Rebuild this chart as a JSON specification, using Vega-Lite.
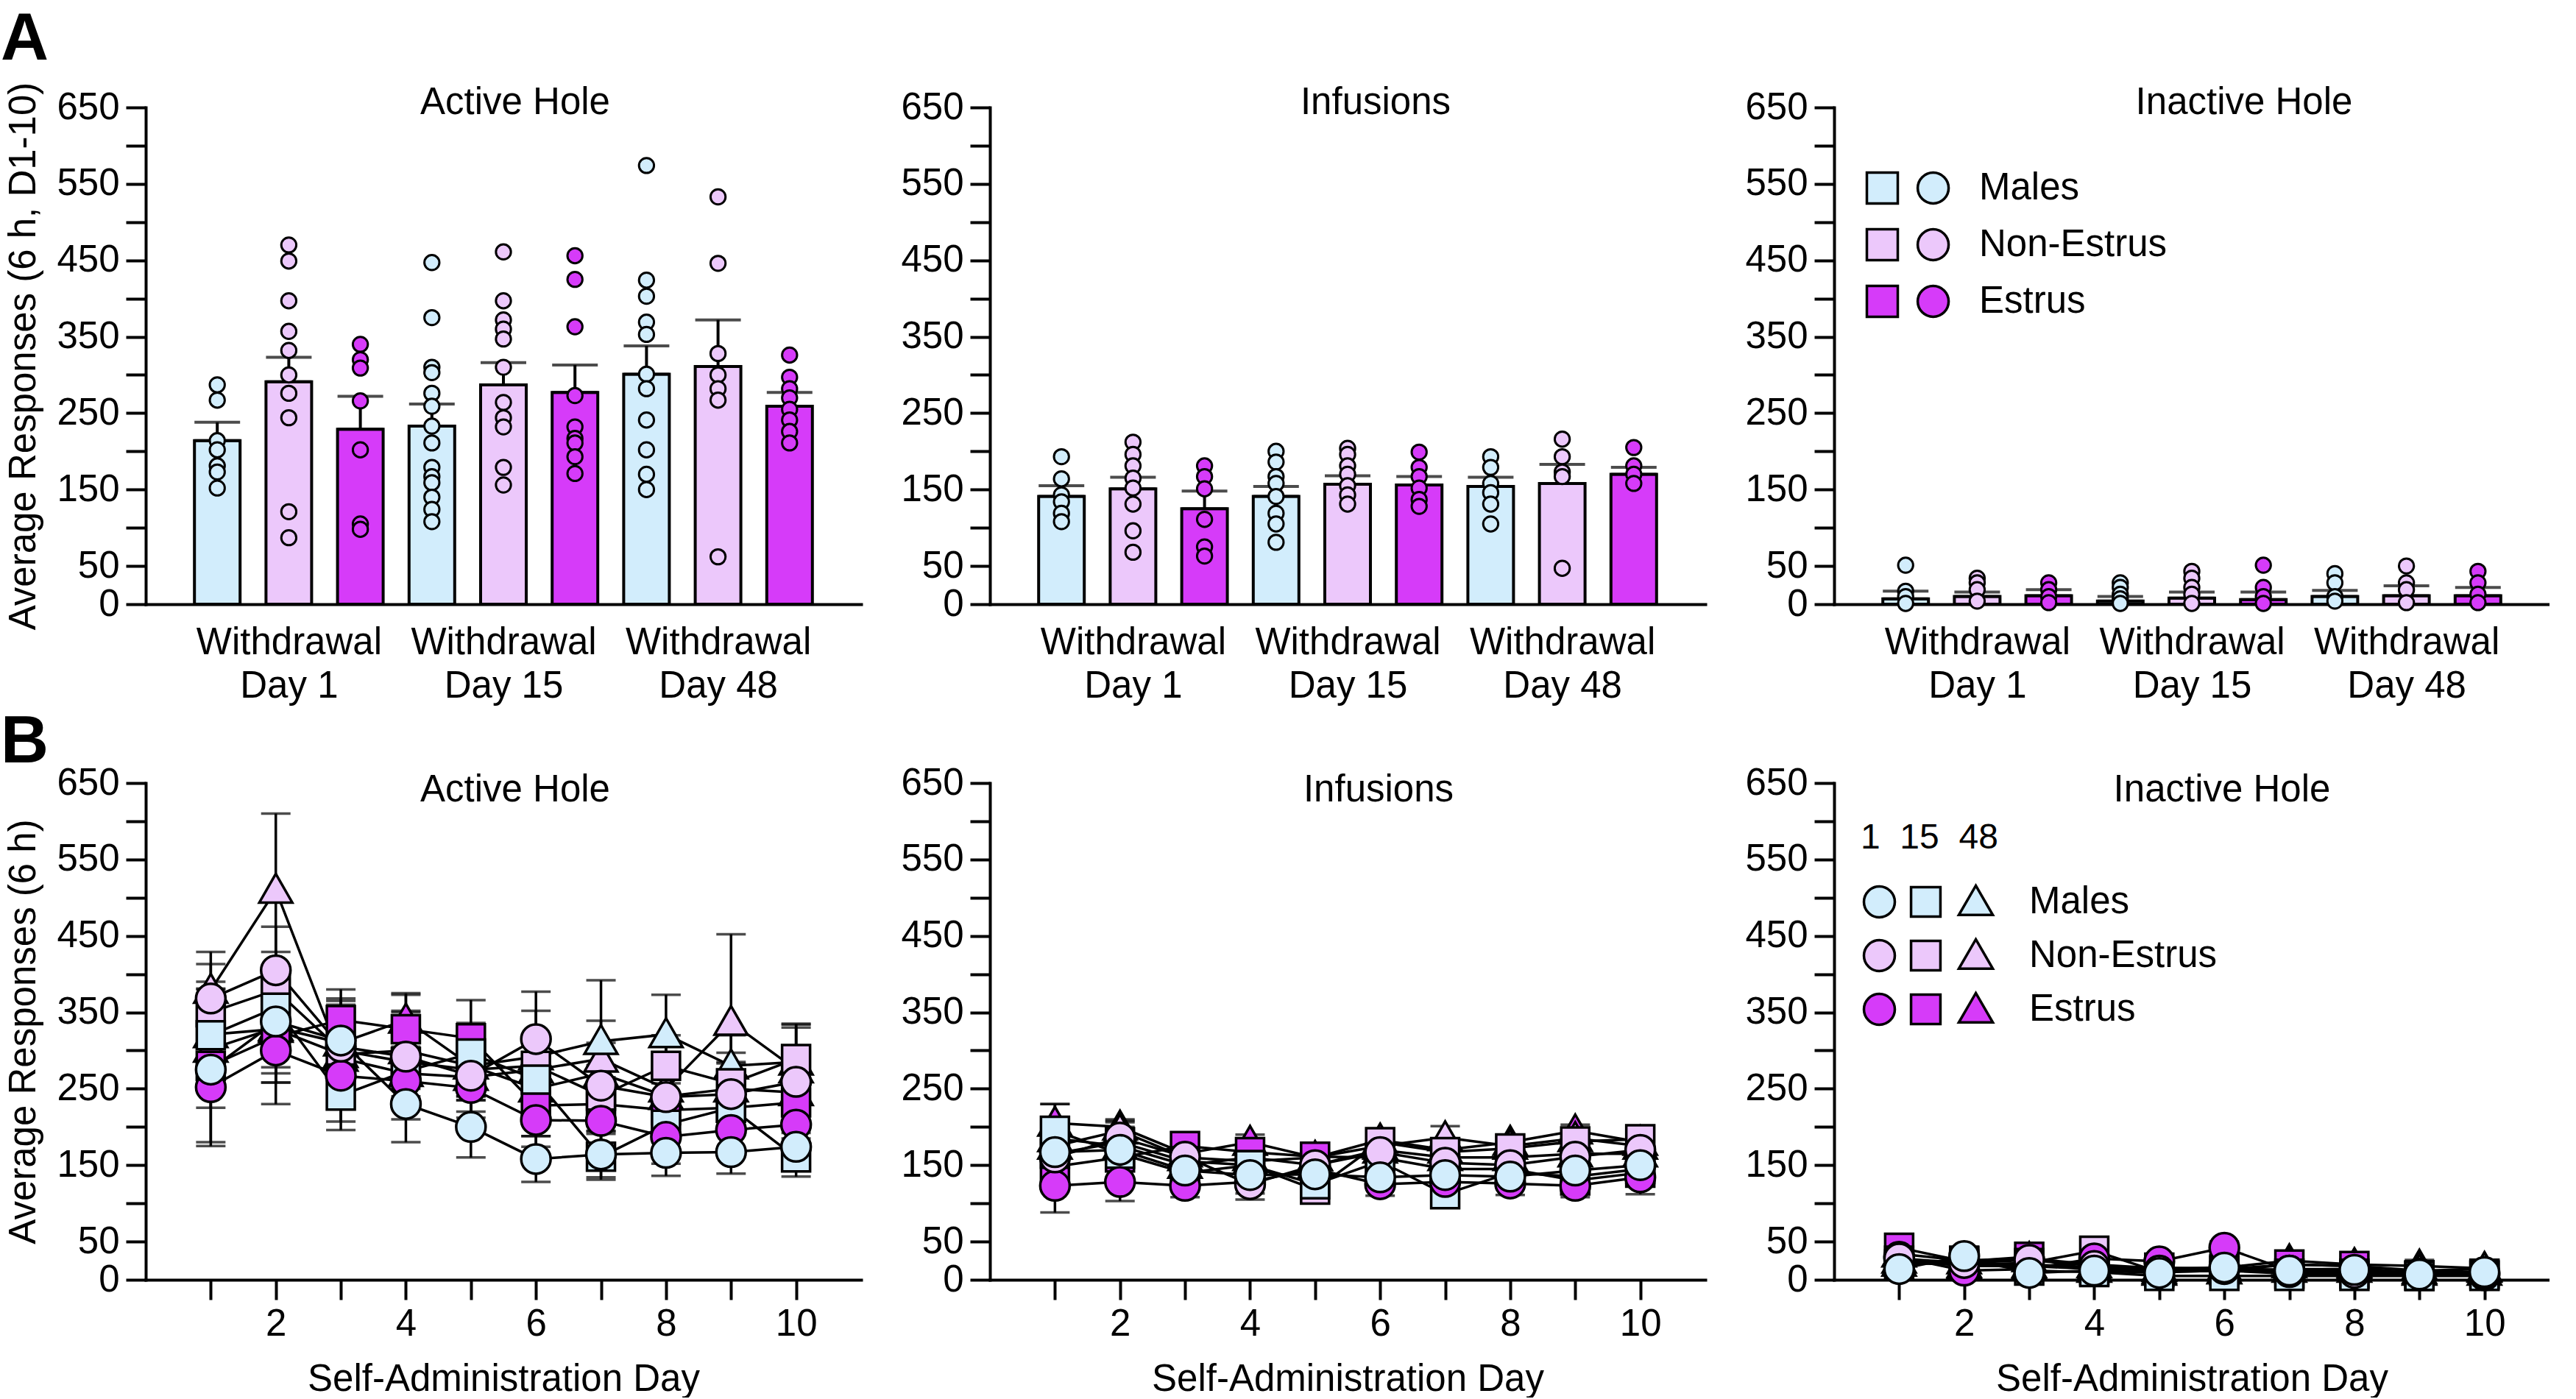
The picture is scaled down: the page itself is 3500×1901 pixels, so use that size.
{
"$schema":"https://vega.github.io/schema/vega-lite/v6.json",
"padding":{"left":0,"top":9,"right":0,"bottom":0},
"background":"white",
"datasets":{
"bars":[
{"p":"act","g":"Males","pos":1,"mean":214,"hi":238},{"p":"act","g":"Non-Estrus","pos":2,"mean":291,"hi":323},{"p":"act","g":"Estrus","pos":3,"mean":229,"hi":272},
{"p":"act","g":"Males","pos":4,"mean":233,"hi":262},{"p":"act","g":"Non-Estrus","pos":5,"mean":287,"hi":316},{"p":"act","g":"Estrus","pos":6,"mean":277,"hi":313},
{"p":"act","g":"Males","pos":7,"mean":301,"hi":338},{"p":"act","g":"Non-Estrus","pos":8,"mean":311,"hi":372},{"p":"act","g":"Estrus","pos":9,"mean":259,"hi":277},
{"p":"inf","g":"Males","pos":1,"mean":141,"hi":155},{"p":"inf","g":"Non-Estrus","pos":2,"mean":151,"hi":166},{"p":"inf","g":"Estrus","pos":3,"mean":125,"hi":148},
{"p":"inf","g":"Males","pos":4,"mean":141,"hi":154},{"p":"inf","g":"Non-Estrus","pos":5,"mean":157,"hi":168},{"p":"inf","g":"Estrus","pos":6,"mean":156,"hi":167},
{"p":"inf","g":"Males","pos":7,"mean":154,"hi":166},{"p":"inf","g":"Non-Estrus","pos":8,"mean":158,"hi":183},{"p":"inf","g":"Estrus","pos":9,"mean":170,"hi":179},
{"p":"ina","g":"Males","pos":1,"mean":7,"hi":17},{"p":"ina","g":"Non-Estrus","pos":2,"mean":10,"hi":16},{"p":"ina","g":"Estrus","pos":3,"mean":11,"hi":19},
{"p":"ina","g":"Males","pos":4,"mean":4,"hi":10},{"p":"ina","g":"Non-Estrus","pos":5,"mean":8,"hi":16},{"p":"ina","g":"Estrus","pos":6,"mean":6,"hi":16},
{"p":"ina","g":"Males","pos":7,"mean":10,"hi":18},{"p":"ina","g":"Non-Estrus","pos":8,"mean":11,"hi":24},{"p":"ina","g":"Estrus","pos":9,"mean":11,"hi":22}
],
"pts":[
{"p":"act","g":"Males","pos":1,"v":287},{"p":"act","g":"Males","pos":1,"v":267},{"p":"act","g":"Males","pos":1,"v":214},{"p":"act","g":"Males","pos":1,"v":202},{"p":"act","g":"Males","pos":1,"v":181},{"p":"act","g":"Males","pos":1,"v":173},{"p":"act","g":"Males","pos":1,"v":152},
{"p":"act","g":"Non-Estrus","pos":2,"v":470},{"p":"act","g":"Non-Estrus","pos":2,"v":449},{"p":"act","g":"Non-Estrus","pos":2,"v":397},{"p":"act","g":"Non-Estrus","pos":2,"v":357},{"p":"act","g":"Non-Estrus","pos":2,"v":332},{"p":"act","g":"Non-Estrus","pos":2,"v":300},{"p":"act","g":"Non-Estrus","pos":2,"v":276},{"p":"act","g":"Non-Estrus","pos":2,"v":244},{"p":"act","g":"Non-Estrus","pos":2,"v":121},{"p":"act","g":"Non-Estrus","pos":2,"v":87},
{"p":"act","g":"Estrus","pos":3,"v":340},{"p":"act","g":"Estrus","pos":3,"v":320},{"p":"act","g":"Estrus","pos":3,"v":309},{"p":"act","g":"Estrus","pos":3,"v":266},{"p":"act","g":"Estrus","pos":3,"v":202},{"p":"act","g":"Estrus","pos":3,"v":105},{"p":"act","g":"Estrus","pos":3,"v":98},
{"p":"act","g":"Males","pos":4,"v":447},{"p":"act","g":"Males","pos":4,"v":375},{"p":"act","g":"Males","pos":4,"v":310},{"p":"act","g":"Males","pos":4,"v":303},{"p":"act","g":"Males","pos":4,"v":276},{"p":"act","g":"Males","pos":4,"v":259},{"p":"act","g":"Males","pos":4,"v":233},{"p":"act","g":"Males","pos":4,"v":211},{"p":"act","g":"Males","pos":4,"v":179},{"p":"act","g":"Males","pos":4,"v":167},{"p":"act","g":"Males","pos":4,"v":159},{"p":"act","g":"Males","pos":4,"v":140},{"p":"act","g":"Males","pos":4,"v":124},{"p":"act","g":"Males","pos":4,"v":108},
{"p":"act","g":"Non-Estrus","pos":5,"v":461},{"p":"act","g":"Non-Estrus","pos":5,"v":397},{"p":"act","g":"Non-Estrus","pos":5,"v":372},{"p":"act","g":"Non-Estrus","pos":5,"v":360},{"p":"act","g":"Non-Estrus","pos":5,"v":347},{"p":"act","g":"Non-Estrus","pos":5,"v":310},{"p":"act","g":"Non-Estrus","pos":5,"v":264},{"p":"act","g":"Non-Estrus","pos":5,"v":244},{"p":"act","g":"Non-Estrus","pos":5,"v":232},{"p":"act","g":"Non-Estrus","pos":5,"v":179},{"p":"act","g":"Non-Estrus","pos":5,"v":156},
{"p":"act","g":"Estrus","pos":6,"v":456},{"p":"act","g":"Estrus","pos":6,"v":425},{"p":"act","g":"Estrus","pos":6,"v":363},{"p":"act","g":"Estrus","pos":6,"v":273},{"p":"act","g":"Estrus","pos":6,"v":232},{"p":"act","g":"Estrus","pos":6,"v":217},{"p":"act","g":"Estrus","pos":6,"v":211},{"p":"act","g":"Estrus","pos":6,"v":193},{"p":"act","g":"Estrus","pos":6,"v":171},
{"p":"act","g":"Males","pos":7,"v":574},{"p":"act","g":"Males","pos":7,"v":424},{"p":"act","g":"Males","pos":7,"v":403},{"p":"act","g":"Males","pos":7,"v":369},{"p":"act","g":"Males","pos":7,"v":353},{"p":"act","g":"Males","pos":7,"v":301},{"p":"act","g":"Males","pos":7,"v":282},{"p":"act","g":"Males","pos":7,"v":241},{"p":"act","g":"Males","pos":7,"v":202},{"p":"act","g":"Males","pos":7,"v":170},{"p":"act","g":"Males","pos":7,"v":150},
{"p":"act","g":"Non-Estrus","pos":8,"v":533},{"p":"act","g":"Non-Estrus","pos":8,"v":446},{"p":"act","g":"Non-Estrus","pos":8,"v":328},{"p":"act","g":"Non-Estrus","pos":8,"v":300},{"p":"act","g":"Non-Estrus","pos":8,"v":282},{"p":"act","g":"Non-Estrus","pos":8,"v":267},{"p":"act","g":"Non-Estrus","pos":8,"v":62},
{"p":"act","g":"Estrus","pos":9,"v":326},{"p":"act","g":"Estrus","pos":9,"v":297},{"p":"act","g":"Estrus","pos":9,"v":282},{"p":"act","g":"Estrus","pos":9,"v":270},{"p":"act","g":"Estrus","pos":9,"v":255},{"p":"act","g":"Estrus","pos":9,"v":241},{"p":"act","g":"Estrus","pos":9,"v":226},{"p":"act","g":"Estrus","pos":9,"v":211},
{"p":"inf","g":"Males","pos":1,"v":193},{"p":"inf","g":"Males","pos":1,"v":164},{"p":"inf","g":"Males","pos":1,"v":143},{"p":"inf","g":"Males","pos":1,"v":134},{"p":"inf","g":"Males","pos":1,"v":119},{"p":"inf","g":"Males","pos":1,"v":108},
{"p":"inf","g":"Non-Estrus","pos":2,"v":212},{"p":"inf","g":"Non-Estrus","pos":2,"v":196},{"p":"inf","g":"Non-Estrus","pos":2,"v":181},{"p":"inf","g":"Non-Estrus","pos":2,"v":165},{"p":"inf","g":"Non-Estrus","pos":2,"v":152},{"p":"inf","g":"Non-Estrus","pos":2,"v":131},{"p":"inf","g":"Non-Estrus","pos":2,"v":96},{"p":"inf","g":"Non-Estrus","pos":2,"v":68},
{"p":"inf","g":"Estrus","pos":3,"v":181},{"p":"inf","g":"Estrus","pos":3,"v":167},{"p":"inf","g":"Estrus","pos":3,"v":151},{"p":"inf","g":"Estrus","pos":3,"v":111},{"p":"inf","g":"Estrus","pos":3,"v":75},{"p":"inf","g":"Estrus","pos":3,"v":63},
{"p":"inf","g":"Males","pos":4,"v":200},{"p":"inf","g":"Males","pos":4,"v":186},{"p":"inf","g":"Males","pos":4,"v":167},{"p":"inf","g":"Males","pos":4,"v":158},{"p":"inf","g":"Males","pos":4,"v":141},{"p":"inf","g":"Males","pos":4,"v":119},{"p":"inf","g":"Males","pos":4,"v":105},{"p":"inf","g":"Males","pos":4,"v":81},
{"p":"inf","g":"Non-Estrus","pos":5,"v":204},{"p":"inf","g":"Non-Estrus","pos":5,"v":196},{"p":"inf","g":"Non-Estrus","pos":5,"v":181},{"p":"inf","g":"Non-Estrus","pos":5,"v":170},{"p":"inf","g":"Non-Estrus","pos":5,"v":155},{"p":"inf","g":"Non-Estrus","pos":5,"v":143},{"p":"inf","g":"Non-Estrus","pos":5,"v":131},
{"p":"inf","g":"Estrus","pos":6,"v":199},{"p":"inf","g":"Estrus","pos":6,"v":179},{"p":"inf","g":"Estrus","pos":6,"v":167},{"p":"inf","g":"Estrus","pos":6,"v":152},{"p":"inf","g":"Estrus","pos":6,"v":137},{"p":"inf","g":"Estrus","pos":6,"v":128},
{"p":"inf","g":"Males","pos":7,"v":193},{"p":"inf","g":"Males","pos":7,"v":179},{"p":"inf","g":"Males","pos":7,"v":158},{"p":"inf","g":"Males","pos":7,"v":146},{"p":"inf","g":"Males","pos":7,"v":131},{"p":"inf","g":"Males","pos":7,"v":105},
{"p":"inf","g":"Non-Estrus","pos":8,"v":216},{"p":"inf","g":"Non-Estrus","pos":8,"v":193},{"p":"inf","g":"Non-Estrus","pos":8,"v":173},{"p":"inf","g":"Non-Estrus","pos":8,"v":167},{"p":"inf","g":"Non-Estrus","pos":8,"v":47},
{"p":"inf","g":"Estrus","pos":9,"v":205},{"p":"inf","g":"Estrus","pos":9,"v":181},{"p":"inf","g":"Estrus","pos":9,"v":170},{"p":"inf","g":"Estrus","pos":9,"v":158},
{"p":"ina","g":"Males","pos":1,"v":51},{"p":"ina","g":"Males","pos":1,"v":17},{"p":"ina","g":"Males","pos":1,"v":10},{"p":"ina","g":"Males","pos":1,"v":1},
{"p":"ina","g":"Non-Estrus","pos":2,"v":34},{"p":"ina","g":"Non-Estrus","pos":2,"v":28},{"p":"ina","g":"Non-Estrus","pos":2,"v":19},{"p":"ina","g":"Non-Estrus","pos":2,"v":4},
{"p":"ina","g":"Estrus","pos":3,"v":28},{"p":"ina","g":"Estrus","pos":3,"v":19},{"p":"ina","g":"Estrus","pos":3,"v":10},{"p":"ina","g":"Estrus","pos":3,"v":2},
{"p":"ina","g":"Males","pos":4,"v":28},{"p":"ina","g":"Males","pos":4,"v":22},{"p":"ina","g":"Males","pos":4,"v":13},{"p":"ina","g":"Males","pos":4,"v":7},{"p":"ina","g":"Males","pos":4,"v":1},
{"p":"ina","g":"Non-Estrus","pos":5,"v":43},{"p":"ina","g":"Non-Estrus","pos":5,"v":34},{"p":"ina","g":"Non-Estrus","pos":5,"v":22},{"p":"ina","g":"Non-Estrus","pos":5,"v":13},{"p":"ina","g":"Non-Estrus","pos":5,"v":1},
{"p":"ina","g":"Estrus","pos":6,"v":51},{"p":"ina","g":"Estrus","pos":6,"v":22},{"p":"ina","g":"Estrus","pos":6,"v":10},{"p":"ina","g":"Estrus","pos":6,"v":1},
{"p":"ina","g":"Males","pos":7,"v":40},{"p":"ina","g":"Males","pos":7,"v":28},{"p":"ina","g":"Males","pos":7,"v":10},{"p":"ina","g":"Males","pos":7,"v":4},
{"p":"ina","g":"Non-Estrus","pos":8,"v":50},{"p":"ina","g":"Non-Estrus","pos":8,"v":28},{"p":"ina","g":"Non-Estrus","pos":8,"v":19},{"p":"ina","g":"Non-Estrus","pos":8,"v":2},
{"p":"ina","g":"Estrus","pos":9,"v":43},{"p":"ina","g":"Estrus","pos":9,"v":28},{"p":"ina","g":"Estrus","pos":9,"v":13},{"p":"ina","g":"Estrus","pos":9,"v":2}
],
"ser":[
{"p":"act","g":"Estrus","c":"48","d":1,"m":302,"s":45},{"p":"act","g":"Estrus","c":"48","d":2,"m":330,"s":60},{"p":"act","g":"Estrus","c":"48","d":3,"m":310,"s":50},{"p":"act","g":"Estrus","c":"48","d":4,"m":340,"s":35},{"p":"act","g":"Estrus","c":"48","d":5,"m":280,"s":40},{"p":"act","g":"Estrus","c":"48","d":6,"m":250,"s":40},{"p":"act","g":"Estrus","c":"48","d":7,"m":270,"s":40},{"p":"act","g":"Estrus","c":"48","d":8,"m":240,"s":35},{"p":"act","g":"Estrus","c":"48","d":9,"m":250,"s":35},{"p":"act","g":"Estrus","c":"48","d":10,"m":245,"s":40},
{"p":"act","g":"Non-Estrus","c":"48","d":1,"m":379,"s":50},{"p":"act","g":"Non-Estrus","c":"48","d":2,"m":510,"s":100},{"p":"act","g":"Non-Estrus","c":"48","d":3,"m":290,"s":50},{"p":"act","g":"Non-Estrus","c":"48","d":4,"m":270,"s":45},{"p":"act","g":"Non-Estrus","c":"48","d":5,"m":265,"s":45},{"p":"act","g":"Non-Estrus","c":"48","d":6,"m":275,"s":45},{"p":"act","g":"Non-Estrus","c":"48","d":7,"m":289,"s":50},{"p":"act","g":"Non-Estrus","c":"48","d":8,"m":250,"s":45},{"p":"act","g":"Non-Estrus","c":"48","d":9,"m":337,"s":115},{"p":"act","g":"Non-Estrus","c":"48","d":10,"m":275,"s":55},
{"p":"act","g":"Males","c":"48","d":1,"m":321,"s":60},{"p":"act","g":"Males","c":"48","d":2,"m":328,"s":70},{"p":"act","g":"Males","c":"48","d":3,"m":295,"s":55},{"p":"act","g":"Males","c":"48","d":4,"m":300,"s":50},{"p":"act","g":"Males","c":"48","d":5,"m":280,"s":45},{"p":"act","g":"Males","c":"48","d":6,"m":292,"s":60},{"p":"act","g":"Males","c":"48","d":7,"m":312,"s":80},{"p":"act","g":"Males","c":"48","d":8,"m":321,"s":52},{"p":"act","g":"Males","c":"48","d":9,"m":280,"s":40},{"p":"act","g":"Males","c":"48","d":10,"m":285,"s":50},
{"p":"act","g":"Estrus","c":"15","d":1,"m":280,"s":100},{"p":"act","g":"Estrus","c":"15","d":2,"m":318,"s":60},{"p":"act","g":"Estrus","c":"15","d":3,"m":340,"s":40},{"p":"act","g":"Estrus","c":"15","d":4,"m":328,"s":45},{"p":"act","g":"Estrus","c":"15","d":5,"m":316,"s":50},{"p":"act","g":"Estrus","c":"15","d":6,"m":228,"s":40},{"p":"act","g":"Estrus","c":"15","d":7,"m":230,"s":35},{"p":"act","g":"Estrus","c":"15","d":8,"m":222,"s":35},{"p":"act","g":"Estrus","c":"15","d":9,"m":225,"s":35},{"p":"act","g":"Estrus","c":"15","d":10,"m":232,"s":40},
{"p":"act","g":"Non-Estrus","c":"15","d":1,"m":350,"s":40},{"p":"act","g":"Non-Estrus","c":"15","d":2,"m":379,"s":50},{"p":"act","g":"Non-Estrus","c":"15","d":3,"m":300,"s":50},{"p":"act","g":"Non-Estrus","c":"15","d":4,"m":285,"s":45},{"p":"act","g":"Non-Estrus","c":"15","d":5,"m":275,"s":40},{"p":"act","g":"Non-Estrus","c":"15","d":6,"m":280,"s":40},{"p":"act","g":"Non-Estrus","c":"15","d":7,"m":241,"s":40},{"p":"act","g":"Non-Estrus","c":"15","d":8,"m":280,"s":40},{"p":"act","g":"Non-Estrus","c":"15","d":9,"m":257,"s":40},{"p":"act","g":"Non-Estrus","c":"15","d":10,"m":289,"s":45},
{"p":"act","g":"Males","c":"15","d":1,"m":320,"s":40},{"p":"act","g":"Males","c":"15","d":2,"m":356,"s":50},{"p":"act","g":"Males","c":"15","d":3,"m":241,"s":45},{"p":"act","g":"Males","c":"15","d":4,"m":273,"s":40},{"p":"act","g":"Males","c":"15","d":5,"m":296,"s":40},{"p":"act","g":"Males","c":"15","d":6,"m":262,"s":35},{"p":"act","g":"Males","c":"15","d":7,"m":161,"s":30},{"p":"act","g":"Males","c":"15","d":8,"m":203,"s":30},{"p":"act","g":"Males","c":"15","d":9,"m":225,"s":30},{"p":"act","g":"Males","c":"15","d":10,"m":160,"s":25},
{"p":"act","g":"Estrus","c":"1","d":1,"m":252,"s":77},{"p":"act","g":"Estrus","c":"1","d":2,"m":300,"s":70},{"p":"act","g":"Estrus","c":"1","d":3,"m":267,"s":60},{"p":"act","g":"Estrus","c":"1","d":4,"m":260,"s":50},{"p":"act","g":"Estrus","c":"1","d":5,"m":251,"s":45},{"p":"act","g":"Estrus","c":"1","d":6,"m":209,"s":35},{"p":"act","g":"Estrus","c":"1","d":7,"m":208,"s":35},{"p":"act","g":"Estrus","c":"1","d":8,"m":187,"s":35},{"p":"act","g":"Estrus","c":"1","d":9,"m":196,"s":35},{"p":"act","g":"Estrus","c":"1","d":10,"m":203,"s":30},
{"p":"act","g":"Non-Estrus","c":"1","d":1,"m":368,"s":45},{"p":"act","g":"Non-Estrus","c":"1","d":2,"m":405,"s":57},{"p":"act","g":"Non-Estrus","c":"1","d":3,"m":305,"s":60},{"p":"act","g":"Non-Estrus","c":"1","d":4,"m":292,"s":60},{"p":"act","g":"Non-Estrus","c":"1","d":5,"m":267,"s":55},{"p":"act","g":"Non-Estrus","c":"1","d":6,"m":315,"s":62},{"p":"act","g":"Non-Estrus","c":"1","d":7,"m":254,"s":45},{"p":"act","g":"Non-Estrus","c":"1","d":8,"m":239,"s":40},{"p":"act","g":"Non-Estrus","c":"1","d":9,"m":243,"s":40},{"p":"act","g":"Non-Estrus","c":"1","d":10,"m":259,"s":45},
{"p":"act","g":"Males","c":"1","d":1,"m":275,"s":50},{"p":"act","g":"Males","c":"1","d":2,"m":338,"s":60},{"p":"act","g":"Males","c":"1","d":3,"m":313,"s":55},{"p":"act","g":"Males","c":"1","d":4,"m":230,"s":50},{"p":"act","g":"Males","c":"1","d":5,"m":200,"s":40},{"p":"act","g":"Males","c":"1","d":6,"m":158,"s":30},{"p":"act","g":"Males","c":"1","d":7,"m":164,"s":30},{"p":"act","g":"Males","c":"1","d":8,"m":166,"s":30},{"p":"act","g":"Males","c":"1","d":9,"m":167,"s":28},{"p":"act","g":"Males","c":"1","d":10,"m":174,"s":30},
{"p":"inf","g":"Estrus","c":"48","d":1,"m":205,"s":25},{"p":"inf","g":"Estrus","c":"48","d":2,"m":200,"s":8},{"p":"inf","g":"Estrus","c":"48","d":3,"m":165,"s":10},{"p":"inf","g":"Estrus","c":"48","d":4,"m":180,"s":10},{"p":"inf","g":"Estrus","c":"48","d":5,"m":160,"s":10},{"p":"inf","g":"Estrus","c":"48","d":6,"m":183,"s":5},{"p":"inf","g":"Estrus","c":"48","d":7,"m":170,"s":10},{"p":"inf","g":"Estrus","c":"48","d":8,"m":180,"s":8},{"p":"inf","g":"Estrus","c":"48","d":9,"m":195,"s":8},{"p":"inf","g":"Estrus","c":"48","d":10,"m":180,"s":8},
{"p":"inf","g":"Non-Estrus","c":"48","d":1,"m":175,"s":20},{"p":"inf","g":"Non-Estrus","c":"48","d":2,"m":195,"s":15},{"p":"inf","g":"Non-Estrus","c":"48","d":3,"m":160,"s":12},{"p":"inf","g":"Non-Estrus","c":"48","d":4,"m":155,"s":12},{"p":"inf","g":"Non-Estrus","c":"48","d":5,"m":160,"s":15},{"p":"inf","g":"Non-Estrus","c":"48","d":6,"m":175,"s":10},{"p":"inf","g":"Non-Estrus","c":"48","d":7,"m":186,"s":15},{"p":"inf","g":"Non-Estrus","c":"48","d":8,"m":175,"s":10},{"p":"inf","g":"Non-Estrus","c":"48","d":9,"m":185,"s":10},{"p":"inf","g":"Non-Estrus","c":"48","d":10,"m":175,"s":10},
{"p":"inf","g":"Males","c":"48","d":1,"m":185,"s":20},{"p":"inf","g":"Males","c":"48","d":2,"m":175,"s":15},{"p":"inf","g":"Males","c":"48","d":3,"m":150,"s":12},{"p":"inf","g":"Males","c":"48","d":4,"m":160,"s":12},{"p":"inf","g":"Males","c":"48","d":5,"m":150,"s":15},{"p":"inf","g":"Males","c":"48","d":6,"m":170,"s":15},{"p":"inf","g":"Males","c":"48","d":7,"m":160,"s":15},{"p":"inf","g":"Males","c":"48","d":8,"m":160,"s":15},{"p":"inf","g":"Males","c":"48","d":9,"m":165,"s":15},{"p":"inf","g":"Males","c":"48","d":10,"m":165,"s":15},
{"p":"inf","g":"Estrus","c":"15","d":1,"m":148,"s":20},{"p":"inf","g":"Estrus","c":"15","d":2,"m":160,"s":15},{"p":"inf","g":"Estrus","c":"15","d":3,"m":175,"s":10},{"p":"inf","g":"Estrus","c":"15","d":4,"m":167,"s":10},{"p":"inf","g":"Estrus","c":"15","d":5,"m":161,"s":10},{"p":"inf","g":"Estrus","c":"15","d":6,"m":160,"s":15},{"p":"inf","g":"Estrus","c":"15","d":7,"m":145,"s":15},{"p":"inf","g":"Estrus","c":"15","d":8,"m":145,"s":15},{"p":"inf","g":"Estrus","c":"15","d":9,"m":130,"s":15},{"p":"inf","g":"Estrus","c":"15","d":10,"m":140,"s":15},
{"p":"inf","g":"Non-Estrus","c":"15","d":1,"m":165,"s":20},{"p":"inf","g":"Non-Estrus","c":"15","d":2,"m":180,"s":20},{"p":"inf","g":"Non-Estrus","c":"15","d":3,"m":155,"s":15},{"p":"inf","g":"Non-Estrus","c":"15","d":4,"m":150,"s":15},{"p":"inf","g":"Non-Estrus","c":"15","d":5,"m":118,"s":12},{"p":"inf","g":"Non-Estrus","c":"15","d":6,"m":180,"s":15},{"p":"inf","g":"Non-Estrus","c":"15","d":7,"m":167,"s":15},{"p":"inf","g":"Non-Estrus","c":"15","d":8,"m":172,"s":15},{"p":"inf","g":"Non-Estrus","c":"15","d":9,"m":181,"s":15},{"p":"inf","g":"Non-Estrus","c":"15","d":10,"m":184,"s":12},
{"p":"inf","g":"Males","c":"15","d":1,"m":195,"s":35},{"p":"inf","g":"Males","c":"15","d":2,"m":165,"s":20},{"p":"inf","g":"Males","c":"15","d":3,"m":140,"s":15},{"p":"inf","g":"Males","c":"15","d":4,"m":150,"s":15},{"p":"inf","g":"Males","c":"15","d":5,"m":125,"s":10},{"p":"inf","g":"Males","c":"15","d":6,"m":155,"s":15},{"p":"inf","g":"Males","c":"15","d":7,"m":112,"s":15},{"p":"inf","g":"Males","c":"15","d":8,"m":140,"s":15},{"p":"inf","g":"Males","c":"15","d":9,"m":135,"s":15},{"p":"inf","g":"Males","c":"15","d":10,"m":145,"s":15},
{"p":"inf","g":"Estrus","c":"1","d":1,"m":123,"s":35},{"p":"inf","g":"Estrus","c":"1","d":2,"m":128,"s":25},{"p":"inf","g":"Estrus","c":"1","d":3,"m":123,"s":15},{"p":"inf","g":"Estrus","c":"1","d":4,"m":128,"s":15},{"p":"inf","g":"Estrus","c":"1","d":5,"m":145,"s":15},{"p":"inf","g":"Estrus","c":"1","d":6,"m":125,"s":15},{"p":"inf","g":"Estrus","c":"1","d":7,"m":128,"s":15},{"p":"inf","g":"Estrus","c":"1","d":8,"m":126,"s":15},{"p":"inf","g":"Estrus","c":"1","d":9,"m":123,"s":15},{"p":"inf","g":"Estrus","c":"1","d":10,"m":134,"s":22},
{"p":"inf","g":"Non-Estrus","c":"1","d":1,"m":160,"s":20},{"p":"inf","g":"Non-Estrus","c":"1","d":2,"m":186,"s":20},{"p":"inf","g":"Non-Estrus","c":"1","d":3,"m":161,"s":15},{"p":"inf","g":"Non-Estrus","c":"1","d":4,"m":125,"s":20},{"p":"inf","g":"Non-Estrus","c":"1","d":5,"m":150,"s":15},{"p":"inf","g":"Non-Estrus","c":"1","d":6,"m":167,"s":18},{"p":"inf","g":"Non-Estrus","c":"1","d":7,"m":153,"s":15},{"p":"inf","g":"Non-Estrus","c":"1","d":8,"m":150,"s":15},{"p":"inf","g":"Non-Estrus","c":"1","d":9,"m":161,"s":15},{"p":"inf","g":"Non-Estrus","c":"1","d":10,"m":170,"s":15},
{"p":"inf","g":"Males","c":"1","d":1,"m":167,"s":20},{"p":"inf","g":"Males","c":"1","d":2,"m":170,"s":18},{"p":"inf","g":"Males","c":"1","d":3,"m":143,"s":15},{"p":"inf","g":"Males","c":"1","d":4,"m":137,"s":15},{"p":"inf","g":"Males","c":"1","d":5,"m":138,"s":12},{"p":"inf","g":"Males","c":"1","d":6,"m":134,"s":15},{"p":"inf","g":"Males","c":"1","d":7,"m":137,"s":15},{"p":"inf","g":"Males","c":"1","d":8,"m":135,"s":15},{"p":"inf","g":"Males","c":"1","d":9,"m":143,"s":15},{"p":"inf","g":"Males","c":"1","d":10,"m":150,"s":15},
{"p":"ina","g":"Estrus","c":"48","d":1,"m":34,"s":12},{"p":"ina","g":"Estrus","c":"48","d":2,"m":25,"s":8},{"p":"ina","g":"Estrus","c":"48","d":3,"m":28,"s":8},{"p":"ina","g":"Estrus","c":"48","d":4,"m":20,"s":6},{"p":"ina","g":"Estrus","c":"48","d":5,"m":15,"s":6},{"p":"ina","g":"Estrus","c":"48","d":6,"m":16,"s":6},{"p":"ina","g":"Estrus","c":"48","d":7,"m":25,"s":8},{"p":"ina","g":"Estrus","c":"48","d":8,"m":20,"s":8},{"p":"ina","g":"Estrus","c":"48","d":9,"m":18,"s":8},{"p":"ina","g":"Estrus","c":"48","d":10,"m":15,"s":6},
{"p":"ina","g":"Non-Estrus","c":"48","d":1,"m":26,"s":5},{"p":"ina","g":"Non-Estrus","c":"48","d":2,"m":18,"s":5},{"p":"ina","g":"Non-Estrus","c":"48","d":3,"m":18,"s":5},{"p":"ina","g":"Non-Estrus","c":"48","d":4,"m":14,"s":5},{"p":"ina","g":"Non-Estrus","c":"48","d":5,"m":10,"s":5},{"p":"ina","g":"Non-Estrus","c":"48","d":6,"m":12,"s":5},{"p":"ina","g":"Non-Estrus","c":"48","d":7,"m":14,"s":5},{"p":"ina","g":"Non-Estrus","c":"48","d":8,"m":14,"s":5},{"p":"ina","g":"Non-Estrus","c":"48","d":9,"m":10,"s":5},{"p":"ina","g":"Non-Estrus","c":"48","d":10,"m":10,"s":5},
{"p":"ina","g":"Males","c":"48","d":1,"m":22,"s":5},{"p":"ina","g":"Males","c":"48","d":2,"m":20,"s":5},{"p":"ina","g":"Males","c":"48","d":3,"m":20,"s":5},{"p":"ina","g":"Males","c":"48","d":4,"m":16,"s":5},{"p":"ina","g":"Males","c":"48","d":5,"m":12,"s":5},{"p":"ina","g":"Males","c":"48","d":6,"m":12,"s":5},{"p":"ina","g":"Males","c":"48","d":7,"m":20,"s":6},{"p":"ina","g":"Males","c":"48","d":8,"m":18,"s":6},{"p":"ina","g":"Males","c":"48","d":9,"m":12,"s":6},{"p":"ina","g":"Males","c":"48","d":10,"m":14,"s":5},
{"p":"ina","g":"Estrus","c":"15","d":1,"m":42,"s":8},{"p":"ina","g":"Estrus","c":"15","d":2,"m":24,"s":8},{"p":"ina","g":"Estrus","c":"15","d":3,"m":30,"s":6},{"p":"ina","g":"Estrus","c":"15","d":4,"m":12,"s":5},{"p":"ina","g":"Estrus","c":"15","d":5,"m":16,"s":5},{"p":"ina","g":"Estrus","c":"15","d":6,"m":14,"s":5},{"p":"ina","g":"Estrus","c":"15","d":7,"m":20,"s":5},{"p":"ina","g":"Estrus","c":"15","d":8,"m":18,"s":5},{"p":"ina","g":"Estrus","c":"15","d":9,"m":5,"s":5},{"p":"ina","g":"Estrus","c":"15","d":10,"m":8,"s":5},
{"p":"ina","g":"Non-Estrus","c":"15","d":1,"m":25,"s":5},{"p":"ina","g":"Non-Estrus","c":"15","d":2,"m":20,"s":5},{"p":"ina","g":"Non-Estrus","c":"15","d":3,"m":22,"s":5},{"p":"ina","g":"Non-Estrus","c":"15","d":4,"m":38,"s":6},{"p":"ina","g":"Non-Estrus","c":"15","d":5,"m":10,"s":4},{"p":"ina","g":"Non-Estrus","c":"15","d":6,"m":12,"s":4},{"p":"ina","g":"Non-Estrus","c":"15","d":7,"m":8,"s":4},{"p":"ina","g":"Non-Estrus","c":"15","d":8,"m":8,"s":4},{"p":"ina","g":"Non-Estrus","c":"15","d":9,"m":6,"s":3},{"p":"ina","g":"Non-Estrus","c":"15","d":10,"m":6,"s":3},
{"p":"ina","g":"Males","c":"15","d":1,"m":20,"s":5},{"p":"ina","g":"Males","c":"15","d":2,"m":25,"s":5},{"p":"ina","g":"Males","c":"15","d":3,"m":12,"s":4},{"p":"ina","g":"Males","c":"15","d":4,"m":10,"s":4},{"p":"ina","g":"Males","c":"15","d":5,"m":5,"s":6},{"p":"ina","g":"Males","c":"15","d":6,"m":5,"s":8},{"p":"ina","g":"Males","c":"15","d":7,"m":5,"s":6},{"p":"ina","g":"Males","c":"15","d":8,"m":5,"s":8},{"p":"ina","g":"Males","c":"15","d":9,"m":5,"s":6},{"p":"ina","g":"Males","c":"15","d":10,"m":5,"s":6},
{"p":"ina","g":"Estrus","c":"1","d":1,"m":30,"s":6},{"p":"ina","g":"Estrus","c":"1","d":2,"m":12,"s":5},{"p":"ina","g":"Estrus","c":"1","d":3,"m":14,"s":5},{"p":"ina","g":"Estrus","c":"1","d":4,"m":28,"s":6},{"p":"ina","g":"Estrus","c":"1","d":5,"m":24,"s":5},{"p":"ina","g":"Estrus","c":"1","d":6,"m":42,"s":8},{"p":"ina","g":"Estrus","c":"1","d":7,"m":12,"s":4},{"p":"ina","g":"Estrus","c":"1","d":8,"m":10,"s":4},{"p":"ina","g":"Estrus","c":"1","d":9,"m":8,"s":3},{"p":"ina","g":"Estrus","c":"1","d":10,"m":6,"s":3},
{"p":"ina","g":"Non-Estrus","c":"1","d":1,"m":28,"s":6},{"p":"ina","g":"Non-Estrus","c":"1","d":2,"m":22,"s":5},{"p":"ina","g":"Non-Estrus","c":"1","d":3,"m":26,"s":5},{"p":"ina","g":"Non-Estrus","c":"1","d":4,"m":18,"s":5},{"p":"ina","g":"Non-Estrus","c":"1","d":5,"m":12,"s":4},{"p":"ina","g":"Non-Estrus","c":"1","d":6,"m":14,"s":4},{"p":"ina","g":"Non-Estrus","c":"1","d":7,"m":10,"s":4},{"p":"ina","g":"Non-Estrus","c":"1","d":8,"m":9,"s":3},{"p":"ina","g":"Non-Estrus","c":"1","d":9,"m":8,"s":3},{"p":"ina","g":"Non-Estrus","c":"1","d":10,"m":8,"s":3},
{"p":"ina","g":"Males","c":"1","d":1,"m":14,"s":5},{"p":"ina","g":"Males","c":"1","d":2,"m":31,"s":6},{"p":"ina","g":"Males","c":"1","d":3,"m":9,"s":4},{"p":"ina","g":"Males","c":"1","d":4,"m":12,"s":4},{"p":"ina","g":"Males","c":"1","d":5,"m":9,"s":4},{"p":"ina","g":"Males","c":"1","d":6,"m":16,"s":5},{"p":"ina","g":"Males","c":"1","d":7,"m":12,"s":4},{"p":"ina","g":"Males","c":"1","d":8,"m":13,"s":4},{"p":"ina","g":"Males","c":"1","d":9,"m":7,"s":3},{"p":"ina","g":"Males","c":"1","d":10,"m":10,"s":3}
]
},
"vconcat":[
{
"title":{"text":"A","anchor":"start","frame":"bounds","fontSize":90,"fontWeight":"bold","offset":11,"dx":-6},
"spacing":53,
"resolve":{"scale":{"fill":"independent","shape":"independent"},"legend":{"fill":"independent","shape":"independent"}},
"hconcat":[
{"width":972,"height":675,
"title":{"text":"Active Hole","frame":"group","baseline":"alphabetic","offset":-95,"dx":16},
"layer":[
{"data":{"name":"bars"},"transform":[{"filter":"datum.p=='act'"}],
"mark":{"type":"bar","width":62,"stroke":"black","strokeWidth":4},
"encoding":{
"x":{"field":"pos","type":"quantitative","scale":{"domain":[0.336,9.286]},"axis":{"values":[2,5,8],"labelExpr":"datum.value==2?['Withdrawal','Day 1']:datum.value==5?['Withdrawal','Day 15']:['Withdrawal','Day 48']","ticks":false,"labelPadding":27,"labelLineHeight":59,"title":null}},
"y":{"field":"mean","type":"quantitative","scale":{"domain":[0,650]},"axis":{"values":[0,50,100,150,200,250,300,350,400,450,500,550,600,650],"labelExpr":"datum.value==0||datum.value%100==50?datum.label:''","title":"Average Responses (6 h, D1-10)","titlePadding":18}},
"fill":{"field":"g","type":"nominal","scale":{"domain":["Males","Non-Estrus","Estrus"],"range":["#D2EDFC","#ECC8FB","#D63BF9"]},"legend":null}}},
{"data":{"name":"bars"},"transform":[{"filter":"datum.p=='act'"}],
"mark":{"type":"errorbar","orient":"vertical","ticks":true,"size":62,"thickness":4,"color":"black"},
"encoding":{"x":{"field":"pos","type":"quantitative","title":null},"y":{"field":"mean","type":"quantitative","title":"Average Responses (6 h, D1-10)"},"y2":{"field":"hi"}}},
{"data":{"name":"pts"},"transform":[{"filter":"datum.p=='act'"}],
"mark":{"type":"point","shape":"circle","filled":true,"size":415,"stroke":"black","strokeWidth":3,"opacity":1},
"encoding":{"x":{"field":"pos","type":"quantitative","title":null},"y":{"field":"v","type":"quantitative","title":"Average Responses (6 h, D1-10)"},
"fill":{"field":"g","type":"nominal","scale":{"domain":["Males","Non-Estrus","Estrus"],"range":["#D2EDFC","#ECC8FB","#D63BF9"]},"legend":null}}}
]},
{"width":972,"height":675,
"title":{"text":"Infusions","frame":"group","baseline":"alphabetic","offset":-86,"dx":38},
"layer":[
{"data":{"name":"bars"},"transform":[{"filter":"datum.p=='inf'"}],
"mark":{"type":"bar","width":62,"stroke":"black","strokeWidth":4},
"encoding":{
"x":{"field":"pos","type":"quantitative","scale":{"domain":[0.336,9.286]},"axis":{"values":[2,5,8],"labelExpr":"datum.value==2?['Withdrawal','Day 1']:datum.value==5?['Withdrawal','Day 15']:['Withdrawal','Day 48']","ticks":false,"labelPadding":27,"labelLineHeight":59,"title":null}},
"y":{"field":"mean","type":"quantitative","scale":{"domain":[0,650]},"axis":{"values":[0,50,100,150,200,250,300,350,400,450,500,550,600,650],"labelExpr":"datum.value==0||datum.value%100==50?datum.label:''","title":null}},
"fill":{"field":"g","type":"nominal","scale":{"domain":["Males","Non-Estrus","Estrus"],"range":["#D2EDFC","#ECC8FB","#D63BF9"]},"legend":null}}},
{"data":{"name":"bars"},"transform":[{"filter":"datum.p=='inf'"}],
"mark":{"type":"errorbar","orient":"vertical","ticks":true,"size":62,"thickness":4,"color":"black"},
"encoding":{"x":{"field":"pos","type":"quantitative","title":null},"y":{"field":"mean","type":"quantitative","title":null},"y2":{"field":"hi"}}},
{"data":{"name":"pts"},"transform":[{"filter":"datum.p=='inf'"}],
"mark":{"type":"point","shape":"circle","filled":true,"size":415,"stroke":"black","strokeWidth":3,"opacity":1},
"encoding":{"x":{"field":"pos","type":"quantitative","title":null},"y":{"field":"v","type":"quantitative","title":null},
"fill":{"field":"g","type":"nominal","scale":{"domain":["Males","Non-Estrus","Estrus"],"range":["#D2EDFC","#ECC8FB","#D63BF9"]},"legend":null}}}
]},
{"width":972,"height":675,
"title":{"text":"Inactive Hole","frame":"group","baseline":"alphabetic","offset":-86,"dx":71},
"layer":[
{"data":{"name":"bars"},"transform":[{"filter":"datum.p=='ina'"}],
"mark":{"type":"bar","width":62,"stroke":"black","strokeWidth":4},
"encoding":{
"x":{"field":"pos","type":"quantitative","scale":{"domain":[0.336,9.286]},"axis":{"values":[2,5,8],"labelExpr":"datum.value==2?['Withdrawal','Day 1']:datum.value==5?['Withdrawal','Day 15']:['Withdrawal','Day 48']","ticks":false,"labelPadding":27,"labelLineHeight":59,"title":null}},
"y":{"field":"mean","type":"quantitative","scale":{"domain":[0,650]},"axis":{"values":[0,50,100,150,200,250,300,350,400,450,500,550,600,650],"labelExpr":"datum.value==0||datum.value%100==50?datum.label:''","title":null}},
"fill":{"field":"g","type":"nominal","scale":{"domain":["Males","Non-Estrus","Estrus"],"range":["#D2EDFC","#ECC8FB","#D63BF9"]},
"legend":{"orient":"none","legendX":40,"legendY":84,"title":null,"padding":0,"symbolType":"M-1,-1H1V1H-1ZM2.29,0A1,1,0,1,0,4.29,0A1,1,0,1,0,2.29,0Z","symbolSize":1764,"symbolStrokeColor":"black","symbolStrokeWidth":3.5,"symbolOpacity":1,"labelFontSize":51,"labelFont":"Liberation Sans","labelColor":"black","labelOffset":106,"rowPadding":20,"labelLimit":0}}}},
{"data":{"name":"bars"},"transform":[{"filter":"datum.p=='ina'"}],
"mark":{"type":"errorbar","orient":"vertical","ticks":true,"size":62,"thickness":4,"color":"black"},
"encoding":{"x":{"field":"pos","type":"quantitative","title":null},"y":{"field":"mean","type":"quantitative","title":null},"y2":{"field":"hi"}}},
{"data":{"name":"pts"},"transform":[{"filter":"datum.p=='ina'"}],
"mark":{"type":"point","shape":"circle","filled":true,"size":415,"stroke":"black","strokeWidth":3,"opacity":1},
"encoding":{"x":{"field":"pos","type":"quantitative","title":null},"y":{"field":"v","type":"quantitative","title":null},
"fill":{"field":"g","type":"nominal","scale":{"domain":["Males","Non-Estrus","Estrus"],"range":["#D2EDFC","#ECC8FB","#D63BF9"]},
"legend":{"orient":"none","legendX":40,"legendY":84,"title":null,"padding":0,"symbolType":"M-1,-1H1V1H-1ZM2.29,0A1,1,0,1,0,4.29,0A1,1,0,1,0,2.29,0Z","symbolSize":1764,"symbolStrokeColor":"black","symbolStrokeWidth":3.5,"symbolOpacity":1,"labelFontSize":51,"labelFont":"Liberation Sans","labelColor":"black","labelOffset":106,"rowPadding":20,"labelLimit":0}}}}
]}
]
},
{
"title":{"text":"B","anchor":"start","frame":"bounds","fontSize":90,"fontWeight":"bold","offset":-17,"dx":-6},
"spacing":53,
"resolve":{"scale":{"fill":"independent","shape":"independent"},"legend":{"fill":"independent","shape":"independent"}},
"hconcat":[
{"width":972,"height":675,
"title":{"text":"Active Hole","frame":"group","baseline":"alphabetic","offset":-102,"dx":16},
"data":{"name":"ser"},"transform":[{"filter":"datum.p=='act'"}],
"layer":[
{"mark":{"type":"errorbar","orient":"vertical","ticks":true,"size":40,"thickness":3.5,"color":"black"},
"encoding":{"x":{"field":"d","type":"quantitative","scale":{"domain":[0.324,10.28]},"axis":{"values":[1,2,3,4,5,6,7,8,9,10],"format":"d","labelExpr":"datum.value%2==0?datum.label:''","labelPadding":8,"title":"Self-Administration Day","titlePadding":25}},
"y":{"field":"m","type":"quantitative","scale":{"domain":[0,650]},"axis":{"values":[0,50,100,150,200,250,300,350,400,450,500,550,600,650],"labelExpr":"datum.value==0||datum.value%100==50?datum.label:''","title":"Average Responses (6 h)","titlePadding":18}},
"yError":{"field":"s"}}},
{"mark":{"type":"line","color":"black","strokeWidth":3.5},
"encoding":{"x":{"field":"d","type":"quantitative","title":"Self-Administration Day"},"y":{"field":"m","type":"quantitative","title":"Average Responses (6 h)"},"detail":[{"field":"g"},{"field":"c"}]}},
{"mark":{"type":"point","filled":true,"size":1600,"stroke":"black","strokeWidth":3.5,"opacity":1},
"encoding":{"x":{"field":"d","type":"quantitative","title":"Self-Administration Day"},"y":{"field":"m","type":"quantitative","title":"Average Responses (6 h)"},
"fill":{"field":"g","type":"nominal","scale":{"domain":["Males","Non-Estrus","Estrus"],"range":["#D2EDFC","#ECC8FB","#D63BF9"]},"legend":null},
"shape":{"field":"c","type":"nominal","scale":{"domain":["1","15","48"],"range":["M-1,0A1,1,0,1,0,1,0A1,1,0,1,0,-1,0Z","M-0.95,-0.95H0.95V0.95H-0.95Z","M0,-1.1L1.12,0.85L-1.12,0.85Z"]},"legend":null}}}
]},
{"width":972,"height":675,
"title":{"text":"Infusions","frame":"group","baseline":"alphabetic","offset":-102,"dx":42},
"data":{"name":"ser"},"transform":[{"filter":"datum.p=='inf'"}],
"layer":[
{"mark":{"type":"errorbar","orient":"vertical","ticks":true,"size":40,"thickness":3.5,"color":"black"},
"encoding":{"x":{"field":"d","type":"quantitative","scale":{"domain":[0.324,10.28]},"axis":{"values":[1,2,3,4,5,6,7,8,9,10],"format":"d","labelExpr":"datum.value%2==0?datum.label:''","labelPadding":8,"title":"Self-Administration Day","titlePadding":25}},
"y":{"field":"m","type":"quantitative","scale":{"domain":[0,650]},"axis":{"values":[0,50,100,150,200,250,300,350,400,450,500,550,600,650],"labelExpr":"datum.value==0||datum.value%100==50?datum.label:''","title":null}},
"yError":{"field":"s"}}},
{"mark":{"type":"line","color":"black","strokeWidth":3.5},
"encoding":{"x":{"field":"d","type":"quantitative","title":"Self-Administration Day"},"y":{"field":"m","type":"quantitative","title":null},"detail":[{"field":"g"},{"field":"c"}]}},
{"mark":{"type":"point","filled":true,"size":1600,"stroke":"black","strokeWidth":3.5,"opacity":1},
"encoding":{"x":{"field":"d","type":"quantitative","title":"Self-Administration Day"},"y":{"field":"m","type":"quantitative","title":null},
"fill":{"field":"g","type":"nominal","scale":{"domain":["Males","Non-Estrus","Estrus"],"range":["#D2EDFC","#ECC8FB","#D63BF9"]},"legend":null},
"shape":{"field":"c","type":"nominal","scale":{"domain":["1","15","48"],"range":["M-1,0A1,1,0,1,0,1,0A1,1,0,1,0,-1,0Z","M-0.95,-0.95H0.95V0.95H-0.95Z","M0,-1.1L1.12,0.85L-1.12,0.85Z"]},"legend":null}}}
]},
{"width":972,"height":675,
"title":{"text":"Inactive Hole","frame":"group","baseline":"alphabetic","offset":-102,"dx":41},
"data":{"name":"ser"},"transform":[{"filter":"datum.p=='ina'"}],
"layer":[
{"mark":{"type":"errorbar","orient":"vertical","ticks":true,"size":40,"thickness":3.5,"color":"black"},
"encoding":{"x":{"field":"d","type":"quantitative","scale":{"domain":[0.324,10.28]},"axis":{"values":[1,2,3,4,5,6,7,8,9,10],"format":"d","labelExpr":"datum.value%2==0?datum.label:''","labelPadding":8,"title":"Self-Administration Day","titlePadding":25}},
"y":{"field":"m","type":"quantitative","scale":{"domain":[0,650]},"axis":{"values":[0,50,100,150,200,250,300,350,400,450,500,550,600,650],"labelExpr":"datum.value==0||datum.value%100==50?datum.label:''","title":null}},
"yError":{"field":"s"}}},
{"mark":{"type":"line","color":"black","strokeWidth":3.5},
"encoding":{"x":{"field":"d","type":"quantitative","title":"Self-Administration Day"},"y":{"field":"m","type":"quantitative","title":null},"detail":[{"field":"g"},{"field":"c"}]}},
{"mark":{"type":"point","filled":true,"size":1600,"stroke":"black","strokeWidth":3.5,"opacity":1},
"encoding":{"x":{"field":"d","type":"quantitative","title":"Self-Administration Day"},"y":{"field":"m","type":"quantitative","title":null},
"fill":{"field":"g","type":"nominal","scale":{"domain":["Males","Non-Estrus","Estrus"],"range":["#D2EDFC","#ECC8FB","#D63BF9"]},
"legend":{"orient":"none","legendX":36,"legendY":51,"title":"1\u00a0\u00a015\u00a0\u00a048","titleFontSize":48,"titleFontWeight":"normal","titleFont":"Liberation Sans","titleColor":"black","titlePadding":37,"titleLimit":0,"padding":0,"symbolType":"M-1,0A1,1,0,1,0,1,0A1,1,0,1,0,-1,0ZM2.05,-0.95H3.95V0.95H2.05ZM6.24,-1.05L7.34,0.85L5.14,0.85Z","symbolSize":1764,"symbolStrokeColor":"black","symbolStrokeWidth":3.5,"symbolOpacity":1,"labelFontSize":51,"labelFont":"Liberation Sans","labelColor":"black","labelOffset":178,"rowPadding":15,"labelLimit":0}},
"shape":{"field":"c","type":"nominal","scale":{"domain":["1","15","48"],"range":["M-1,0A1,1,0,1,0,1,0A1,1,0,1,0,-1,0Z","M-0.95,-0.95H0.95V0.95H-0.95Z","M0,-1.1L1.12,0.85L-1.12,0.85Z"]},"legend":null}}}
]}
]
}
],
"spacing":7,
"resolve":{"scale":{"fill":"independent","shape":"independent"},"legend":{"fill":"independent","shape":"independent"}},
"config":{
"view":{"stroke":null},
"font":"Liberation Sans",
"axis":{"domainColor":"black","domainWidth":4,"domainCap":"square","tickColor":"black","tickWidth":4,"tickSize":27,"labelFont":"Liberation Sans","labelFontSize":51,"labelColor":"black","titleFont":"Liberation Sans","titleFontSize":51,"titleFontWeight":"normal","titleColor":"black","grid":false,"labelPadding":9,"labelOverlap":false,"labelFlush":false,"labelLimit":0},
"title":{"font":"Liberation Sans","fontSize":51,"fontWeight":"normal","color":"black"}
}
}
